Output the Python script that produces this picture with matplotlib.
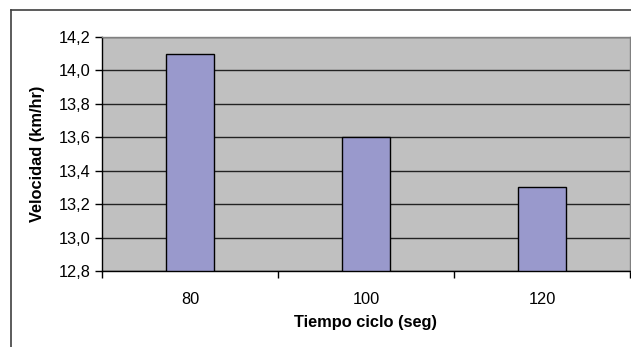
import matplotlib
matplotlib.use("Agg")
import matplotlib.pyplot as plt
from matplotlib.lines import Line2D
from matplotlib.ticker import FixedLocator, FuncFormatter

# data
categorias = ["80", "100", "120"]
velocidad = [14.1, 13.6, 13.3]
yticks = [12.8, 13.0, 13.2, 13.4, 13.6, 13.8, 14.0, 14.2]

plt.rcParams['font.family'] = ['Liberation Sans', 'DejaVu Sans']

W, H = 631, 347
fig = plt.figure(figsize=(W / 100, H / 100), dpi=100)
fig.patch.set_facecolor('white')

# plot area in pixels: x 102..630, y 37..271
ax = fig.add_axes([102 / W, 1 - 271 / H, (630 - 102) / W, (271 - 37) / H])
ax.set_facecolor('#c0c0c0')

x = list(range(len(categorias)))
ax.bar(x, [v - 12.8 for v in velocidad], bottom=12.8, width=0.27,
       color='#9999cc', edgecolor='black', linewidth=1.0, zorder=3)

ax.set_xlim(-0.5, len(categorias) - 0.5)
ax.set_ylim(12.8, 14.2)
ax.set_yticks(yticks)
ax.yaxis.set_major_formatter(FuncFormatter(lambda v, p: f"{v:.1f}".replace('.', ',')))
ax.yaxis.grid(True, color='#222222', linewidth=1.0, zorder=1)
ax.set_axisbelow(True)

ax.set_xticks(x)
ax.set_xticklabels(categorias)
ax.xaxis.set_minor_locator(FixedLocator([i - 0.5 for i in range(len(categorias) + 1)]))
ax.tick_params(axis='x', which='major', length=0, pad=15, labelsize=11.8)
ax.tick_params(axis='x', which='minor', length=5, width=1, direction='out', color='black')
ax.tick_params(axis='y', length=5, width=1, direction='out', labelsize=11.8, pad=3)

for s in ['left', 'bottom']:
    ax.spines[s].set_color('black')
    ax.spines[s].set_linewidth(1.0)
for s in ['top', 'right']:
    ax.spines[s].set_color('#808080')
    ax.spines[s].set_linewidth(1.0)

ax.set_xlabel("Tiempo ciclo (seg)", fontsize=11.8, fontweight='bold', labelpad=6)
ax.set_ylabel("Velocidad (km/hr)", fontsize=11.8, fontweight='bold', labelpad=10)

# outer chart frame (cut by the image edge on right and bottom)
fig.add_artist(Line2D([11 / W, 11 / W], [0, 1 - 10 / H], transform=fig.transFigure,
                      color='#404040', linewidth=1.2))
fig.add_artist(Line2D([11 / W, 1], [1 - 10 / H, 1 - 10 / H], transform=fig.transFigure,
                      color='#404040', linewidth=1.2))

fig.savefig("out.png", dpi=100)
